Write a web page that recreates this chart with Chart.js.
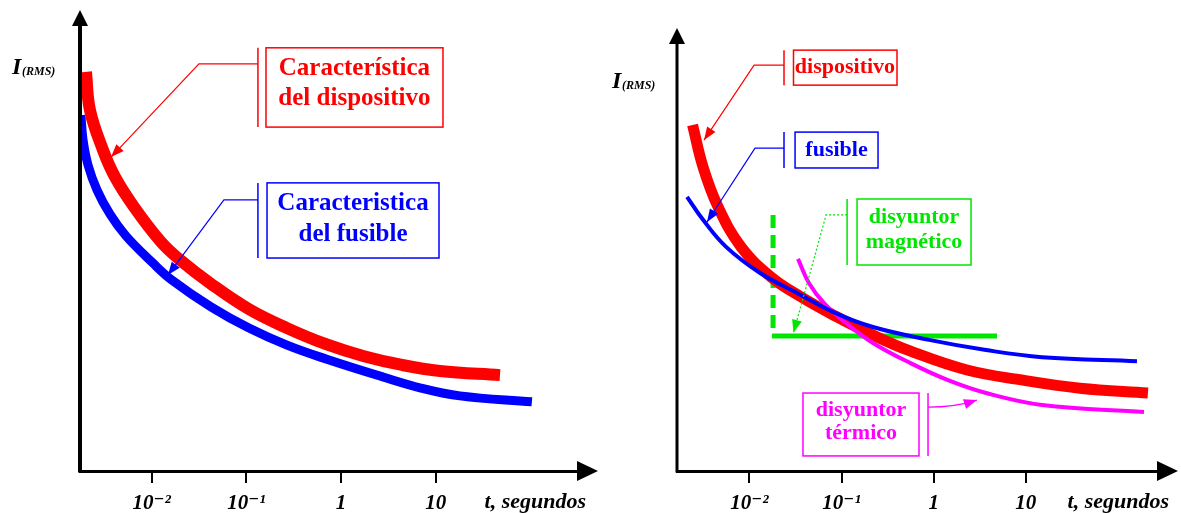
<!DOCTYPE html>
<html>
<head>
<meta charset="utf-8">
<script src="https://cdn.jsdelivr.net/npm/chart.js@4.4.1/dist/chart.umd.min.js"></script>
<style>
  body { margin: 0; background: #fff; }
  .panel { position: absolute; top: 0; }
</style>
</head>
<body>
<div class="panel" style="left:0"><canvas id="leftChart" width="600" height="513"></canvas></div>
<div class="panel" style="left:600px"><canvas id="rightChart" width="581" height="513"></canvas></div>
<script>
// x values are log10(t in seconds), y is I(RMS) in arbitrary units (0..100)
const tickValues = [-2, -1, 0, 1];
const tickLabels = ['10⁻²', '10⁻¹', '1', '10'];

// left panel
const devT = [-2.694, -2.652, -2.514, -2.388, -2.187, -1.902, -1.701, -1.374, -0.973, -0.571, -0.159, 0.242, 0.643, 1.044, 1.678];
const devI = [86.6, 78.3, 69.6, 63.8, 57.3, 49.7, 45.8, 40.6, 35.1, 31.0, 27.5, 24.9, 23.0, 21.7, 20.8];
const fuseT = [-2.747, -2.725, -2.673, -2.578, -2.440, -2.272, -1.987, -1.786, -1.374, -0.973, -0.571, -0.159, 0.442, 0.843, 1.255, 2.015];
const fuseI = [77.2, 71.8, 66.4, 61.0, 55.7, 51.0, 45.1, 41.4, 35.6, 31.0, 27.3, 24.3, 20.4, 18.0, 16.3, 15.0];

// right panel
const dev2T = [-2.618, -2.504, -2.341, -2.092, -1.766, -1.440, -1.071, -0.659, -0.257, 0.362, 0.970, 1.589, 2.327];
const dev2I = [78.1, 68.6, 59.6, 50.6, 43.8, 39.3, 35.0, 30.7, 27.1, 22.8, 20.5, 18.7, 17.6];
const fuse2T = [-2.678, -2.504, -2.254, -1.885, -1.483, -1.071, -0.659, -0.050, 0.569, 1.177, 2.208];
const fuse2I = [61.9, 56.7, 50.6, 44.7, 40.2, 35.7, 32.5, 29.6, 27.3, 25.7, 24.8];
const thermT = [-1.473, -1.353, -1.190, -0.951, -0.659, -0.257, 0.156, 0.569, 1.177, 2.284];
const thermI = [47.9, 42.4, 37.9, 33.4, 28.9, 24.4, 20.5, 17.6, 14.9, 13.3];
const magTripT = [-1.744, -1.744];
const magTripI = [57.8, 32.3];
const magLevelT = [-1.755, 0.688];
const magLevelI = [30.5, 30.5];

const RED = '#ff0000', BLUE = '#0000ff', GREEN = '#00e600', MAGENTA = '#ff00ff';
const SERIF = '"Liberation Serif", "DejaVu Serif", serif';

function pts(xs, ys) {
    return xs.map((x, i) => ({ x: x, y: ys[i] }));
}

function curve(xs, ys, color, width) {
    return {
        data: pts(xs, ys),
        borderColor: color,
        borderWidth: width,
        borderCapStyle: 'butt',
        tension: 0.4,
        pointRadius: 0,
        fill: false
    };
}

// callout boxes, in data units of each panel
const leftCallouts = [
    { color: RED, lines: ['Característica', 'del dispositivo'], box: [-0.793, 91.8, 1.076, 74.6], textX: 0.141, textY: [87.4, 80.9],
      bar: [-0.878, 91.8, 74.6], path: [[-0.878, 88.3], [-1.501, 88.3], [-2.429, 68.1]] },
    { color: BLUE, lines: ['Caracteristica', 'del fusible'], box: [-0.782, 62.5, 1.034, 46.2], textX: 0.126, textY: [58.1, 51.2],
      bar: [-0.878, 62.5, 46.2], path: [[-0.878, 58.8], [-1.237, 58.8], [-1.828, 42.5]] }
];
const rightCallouts = [
    { color: RED, lines: ['dispositivo'], box: [-1.522, 95.0, -0.398, 87.1], textX: -0.963, textY: [91.2],
      bar: [-1.625, 95.0, 87.1], path: [[-1.625, 91.6], [-1.950, 91.6], [-2.493, 74.7]] },
    { color: BLUE, lines: ['fusible'], box: [-1.505, 76.5, -0.604, 68.4], textX: -1.055, textY: [72.5],
      bar: [-1.625, 76.5, 68.4], path: [[-1.625, 72.9], [-1.940, 72.9], [-2.461, 56.2]] },
    { color: GREEN, lines: ['disyuntor', 'magnético'], box: [-0.832, 61.4, 0.406, 46.5], textX: -0.213, textY: [57.3, 51.7],
      bar: [-0.940, 61.4, 46.5], path: [[-0.940, 57.8], [-1.168, 57.8], [-1.522, 31.2]], dash: [2, 2] },
    { color: MAGENTA, lines: ['disyuntor', 'térmico'], box: [-1.419, 17.6, -0.159, 3.4], textX: -0.789, textY: [13.8, 8.4],
      bar: [-0.061, 17.6, 3.4], path: [[-0.061, 14.4], [0.231, 14.4], [0.470, 16.0]], curved: true }
];

// axes arrows, axis labels and callouts
const schematic = {
    id: 'schematic',
    afterDraw(chart, args, opts) {
        const ctx = chart.ctx;
        const a = chart.chartArea;
        const xs = chart.scales.x, ys = chart.scales.y;
        ctx.save();

        // y axis with arrow
        ctx.strokeStyle = '#000';
        ctx.fillStyle = '#000';
        ctx.lineWidth = opts.axisWidth;
        ctx.beginPath();
        ctx.moveTo(a.left, a.bottom + 1.5);
        ctx.lineTo(a.left, a.top + 10);
        ctx.stroke();
        ctx.beginPath();
        ctx.moveTo(a.left, a.top);
        ctx.lineTo(a.left - 8, a.top + 16);
        ctx.lineTo(a.left + 8, a.top + 16);
        ctx.closePath();
        ctx.fill();

        // x axis arrow
        ctx.beginPath();
        ctx.moveTo(a.right + 18, a.bottom);
        ctx.lineTo(a.right - 3, a.bottom - 10);
        ctx.lineTo(a.right - 3, a.bottom + 10);
        ctx.closePath();
        ctx.fill();

        // I(RMS)
        ctx.textBaseline = 'alphabetic';
        ctx.textAlign = 'left';
        ctx.font = 'bold italic 24px ' + SERIF;
        ctx.fillText('I', a.left + opts.yLabel[0], a.top + opts.yLabel[1]);
        ctx.font = 'bold italic 12px ' + SERIF;
        ctx.fillText('(RMS)', a.left + opts.yLabel[0] + 10, a.top + opts.yLabel[1] + 1);

        // t, segundos
        ctx.textAlign = 'right';
        ctx.textBaseline = 'middle';
        ctx.font = 'bold italic 22px ' + SERIF;
        ctx.fillText('t, segundos', a.right + opts.xLabelDx, a.bottom + 31);

        // callouts
        opts.callouts.forEach(c => {
            const px = v => xs.getPixelForValue(v);
            const py = v => ys.getPixelForValue(v);
            ctx.strokeStyle = c.color;
            ctx.fillStyle = c.color;
            ctx.lineWidth = 1.5;
            ctx.setLineDash([]);
            ctx.strokeRect(px(c.box[0]), py(c.box[1]), px(c.box[2]) - px(c.box[0]), py(c.box[3]) - py(c.box[1]));
            ctx.beginPath();
            ctx.moveTo(px(c.bar[0]), py(c.bar[1]));
            ctx.lineTo(px(c.bar[0]), py(c.bar[2]));
            ctx.stroke();

            ctx.font = 'bold ' + opts.fontSize + 'px ' + SERIF;
            ctx.textAlign = 'center';
            ctx.textBaseline = 'middle';
            c.lines.forEach((t, i) => ctx.fillText(t, px(c.textX), py(c.textY[i])));

            const p = c.path.map(q => [px(q[0]), py(q[1])]);
            ctx.lineWidth = 1.2;
            ctx.setLineDash(c.dash || []);
            ctx.beginPath();
            ctx.moveTo(p[0][0], p[0][1]);
            if (c.curved) {
                ctx.quadraticCurveTo(p[1][0], p[1][1], p[2][0], p[2][1]);
            } else {
                for (let i = 1; i < p.length; i++) ctx.lineTo(p[i][0], p[i][1]);
            }
            ctx.stroke();
            ctx.setLineDash([]);
            const tip = p[p.length - 1], prev = p[p.length - 2];
            const ang = Math.atan2(tip[1] - prev[1], tip[0] - prev[0]);
            ctx.beginPath();
            ctx.moveTo(tip[0], tip[1]);
            ctx.lineTo(tip[0] - 13 * Math.cos(ang) + 5 * Math.sin(ang), tip[1] - 13 * Math.sin(ang) - 5 * Math.cos(ang));
            ctx.lineTo(tip[0] - 13 * Math.cos(ang) - 5 * Math.sin(ang), tip[1] - 13 * Math.sin(ang) + 5 * Math.cos(ang));
            ctx.closePath();
            ctx.fill();
        });
        ctx.restore();
    }
};

function makeChart(id, datasets, xMin, xMax, padding, extra) {
    return new Chart(document.getElementById(id), {
        type: 'line',
        data: { datasets: datasets },
        options: {
            responsive: false,
            animation: false,
            layout: { padding: padding },
            plugins: {
                legend: { display: false },
                tooltip: { enabled: false },
                schematic: extra
            },
            scales: {
                x: {
                    type: 'linear',
                    min: xMin,
                    max: xMax,
                    afterFit: s => { s.height = 42; },
                    afterBuildTicks: s => { s.ticks = tickValues.map(v => ({ value: v })); },
                    ticks: {
                        callback: (v, i) => tickLabels[i],
                        color: '#000',
                        padding: 8,
                        maxRotation: 0,
                        autoSkip: false,
                        font: { family: SERIF, size: 21, style: 'italic', weight: 'bold' }
                    },
                    grid: { display: true, drawOnChartArea: false, drawTicks: true, tickLength: 12, color: '#000', lineWidth: 2 },
                    border: { display: true, color: '#000', width: 3 }
                },
                y: { display: false, min: 0, max: 100 }
            }
        },
        plugins: [schematic]
    });
}

makeChart('leftChart', [
    curve(devT, devI, RED, 12),
    curve(fuseT, fuseI, BLUE, 9)
], -2.757, 2.523, { left: 80, right: 20, top: 10, bottom: 0 },
   { callouts: leftCallouts, fontSize: 25, axisWidth: 4, yLabel: [-68, 64], xLabelDx: 6 });

makeChart('rightChart', [
    curve(fuse2T, fuse2I, BLUE, 4),
    curve(thermT, thermI, MAGENTA, 4),
    curve(dev2T, dev2I, RED, 11),
    Object.assign(curve(magLevelT, magLevelI, GREEN, 5), { tension: 0 }),
    Object.assign(curve(magTripT, magTripI, GREEN, 5), { tension: 0, borderDash: [13, 7] })
], -2.787, 2.458, { left: 77, right: 21, top: 28, bottom: 0 },
   { callouts: rightCallouts, fontSize: 22, axisWidth: 3, yLabel: [-65, 60], xLabelDx: 9 });
</script>
</body>
</html>
